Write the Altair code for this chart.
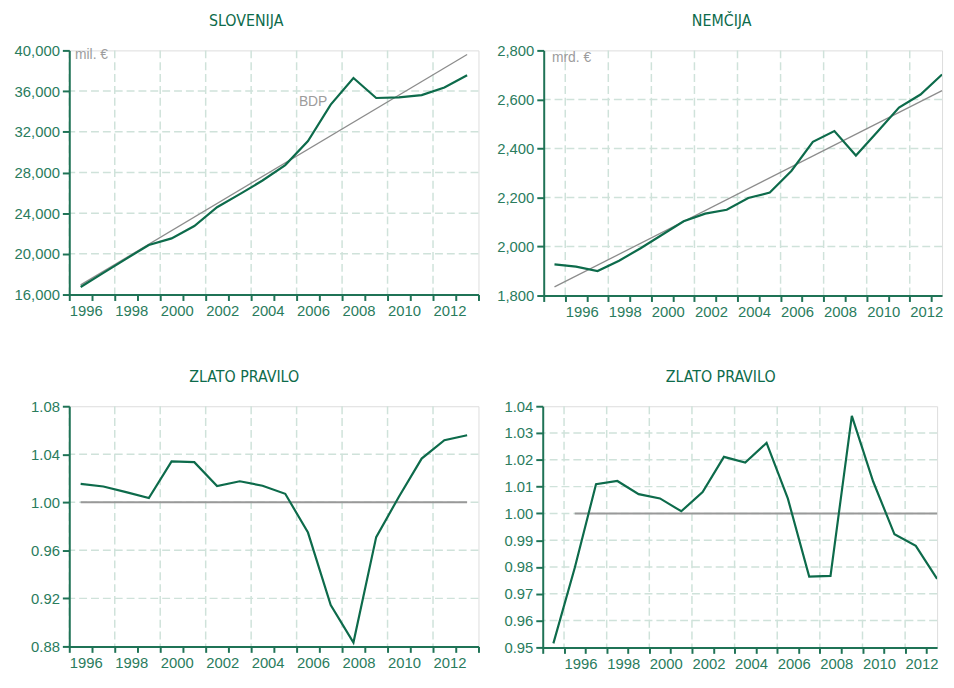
import altair as alt
import pandas as pd

# ---------------- data ----------------
years_slo = list(range(1996, 2014))
gdp_slo = [16740, 18130, 19510, 20870, 21520, 22740, 24580, 25870, 27210, 28730,
           31090, 34670, 37290, 35320, 35380, 35610, 36350, 37550]
trend_slo_years = [1996, 2013]
trend_slo = [16950, 39600]

years_ger = list(range(1995, 2014))
gdp_ger = [1927, 1918, 1900, 1942, 1993, 2048, 2103, 2134, 2150, 2198, 2220,
           2308, 2427, 2471, 2371, 2468, 2567, 2620, 2702]
trend_ger_years = [1995, 2013]
trend_ger = [1835, 2636]

gold_slo = [1.0154, 1.0132, 1.0085, 1.0036, 1.0340, 1.0334, 1.0135, 1.0175, 1.0138,
            1.0071, 0.9748, 0.9145, 0.8832, 0.9710, 1.0046, 1.0364, 1.0517, 1.0558]
gold_ger = [0.9515, 0.9796, 1.0109, 1.0121, 1.0072, 1.0056, 1.0008, 1.0080, 1.0211,
            1.0190, 1.0263, 1.0055, 0.9764, 0.9767, 1.0364, 1.0119, 0.9922, 0.9879, 0.9756]
ref_slo_years = [1996, 2013]
ref_ger_years = [1996, 2013]
ref_value = [1.0, 1.0]

yticks_slo = [16000, 20000, 24000, 28000, 32000, 36000, 40000]
yticks_ger = [1800, 2000, 2200, 2400, 2600, 2800]
yticks_gs = [0.88, 0.92, 0.96, 1.00, 1.04, 1.08]
yticks_gg = [0.95, 0.96, 0.97, 0.98, 0.99, 1.00, 1.01, 1.02, 1.03, 1.04]

titles = ["SLOVENIJA", "NEMČIJA", "ZLATO PRAVILO", "ZLATO PRAVILO"]
unit_slo = {"text": ["mil. €", "BDP"], "year": [1996.25, 2006.1], "value": [39520, 34970]}
unit_ger = {"text": ["mrd. €"], "year": [1995.38], "value": [2769]}

# ---------------- style ----------------
GREEN = "#0d6b4b"
AXIS = "#1f7356"
LABEL = "#2a7c5d"
GRID = "#cfe2da"
GRAY = "#8c8c8c"
TEXTGRAY = "#9c9c9c"
LFONT = "Liberation Sans"
TFONT = "'DejaVu Sans Condensed', 'Roboto Condensed', 'Liberation Sans Narrow', Roboto, sans-serif"


def panel(title, years, values, x_dom, yticks, yfmt, width, height, min_ext,
          trend=None, ref=None, notes=None, title_dx=0):
    xyears = list(range(int(x_dom[0]), int(x_dom[1]) + 1))
    even_grid = [y for y in xyears if y % 2 == 0 and y < 2014]
    ydom = [yticks[0], yticks[-1]]

    xscale = alt.Scale(domain=x_dom, nice=False, zero=False)
    yscale = alt.Scale(domain=ydom, nice=False, zero=False)

    xaxis = alt.Axis(values=xyears, tickCount=100, format="d", grid=False,
                     labelExpr="datum.value % 2 == 0 && datum.value < 2014 ? datum.label : ''",
                     labelAlign="left", labelPadding=3, labelFlush=False,
                     labelFont=LFONT, labelFontSize=15, labelColor=LABEL,
                     domainColor=AXIS, domainWidth=2, tickColor=AXIS, tickWidth=2,
                     tickSize=6, title=None, zindex=1, labelOverlap=False)
    yaxis = alt.Axis(values=yticks, tickCount=100, format=yfmt, grid=False,
                     labelFont=LFONT, labelFontSize=15, labelColor=LABEL, labelPadding=3,
                     domainColor=AXIS, domainWidth=2, tickColor=AXIS, tickWidth=2,
                     tickSize=7, title=None, zindex=1, minExtent=min_ext, labelFlush=False,
                     labelOverlap=False)

    df = pd.DataFrame({"year": years, "value": values})
    base = alt.Chart(df).transform_calculate(xc="datum.year + 0.5")

    hgrid = alt.Chart(pd.DataFrame({"g": yticks[1:-1]})).mark_rule(
        color=GRID, strokeWidth=1.5, strokeDash=[8, 4]).encode(
        y=alt.Y("g:Q", scale=yscale, axis=yaxis))
    vgrid = alt.Chart(pd.DataFrame({"g": even_grid})).mark_rule(
        color=GRID, strokeWidth=1.5, strokeDash=[8, 4]).encode(
        x=alt.X("g:Q", scale=xscale, axis=xaxis))

    layers = [hgrid, vgrid]
    if trend is not None:
        tdf = pd.DataFrame({"year": trend[0], "value": trend[1]})
        layers.append(alt.Chart(tdf).transform_calculate(xc="datum.year + 0.5").mark_line(
            color=GRAY, strokeWidth=1.3).encode(
            x=alt.X("xc:Q", scale=xscale), y=alt.Y("value:Q", scale=yscale)))
    if ref is not None:
        rdf = pd.DataFrame({"year": ref[0], "value": ref[1]})
        layers.append(alt.Chart(rdf).transform_calculate(xc="datum.year + 0.5").mark_line(
            color="#999999", strokeWidth=2).encode(
            x=alt.X("xc:Q", scale=xscale), y=alt.Y("value:Q", scale=yscale)))
    layers.append(base.mark_line(color=GREEN, strokeWidth=2.2, clip=True).encode(
        x=alt.X("xc:Q", scale=xscale), y=alt.Y("value:Q", scale=yscale)))
    if notes is not None:
        ndf = pd.DataFrame(notes)
        layers.append(alt.Chart(ndf).mark_text(
            align="left", baseline="middle", font=LFONT, fontSize=14, color=TEXTGRAY).encode(
            x=alt.X("year:Q", scale=xscale), y=alt.Y("value:Q", scale=yscale), text="text:N"))

    return alt.layer(*layers).properties(
        width=width, height=height,
        title=alt.TitleParams(title, font=TFONT, fontSize=16, fontWeight="normal",
                              color=GREEN, anchor="middle", frame="bounds", offset=15,
                              dx=title_dx))


top_left = panel(titles[0], years_slo, gdp_slo, [1996, 2014], yticks_slo, ",d",
                 414, 247, 57, trend=(trend_slo_years, trend_slo), notes=unit_slo)
top_right = panel(titles[1], years_ger, gdp_ger, [1995, 2013.5], yticks_ger, ",d",
                  403, 248, 47, trend=(trend_ger_years, trend_ger), notes=unit_ger, title_dx=1)
bot_left = panel(titles[2], years_slo, gold_slo, [1996, 2014], yticks_gs, ".2f",
                 414, 243, 61, ref=(ref_slo_years, ref_value))
bot_right = panel(titles[3], years_ger, gold_ger, [1995, 2013.5], yticks_gg, ".2f",
                  399, 244, 41, ref=(ref_ger_years, ref_value), title_dx=-1)

row1 = alt.hconcat(top_left, top_right, spacing=15)
row2 = alt.hconcat(bot_left, bot_right, spacing=21)

chart = alt.vconcat(row1, row2, spacing=48).properties(
    padding={"top": 0, "left": 0, "right": 0, "bottom": -3}).configure_view(
    stroke=None).configure(background="white")

chart.save("out.html", embed_options={"renderer": "svg", "actions": False})
